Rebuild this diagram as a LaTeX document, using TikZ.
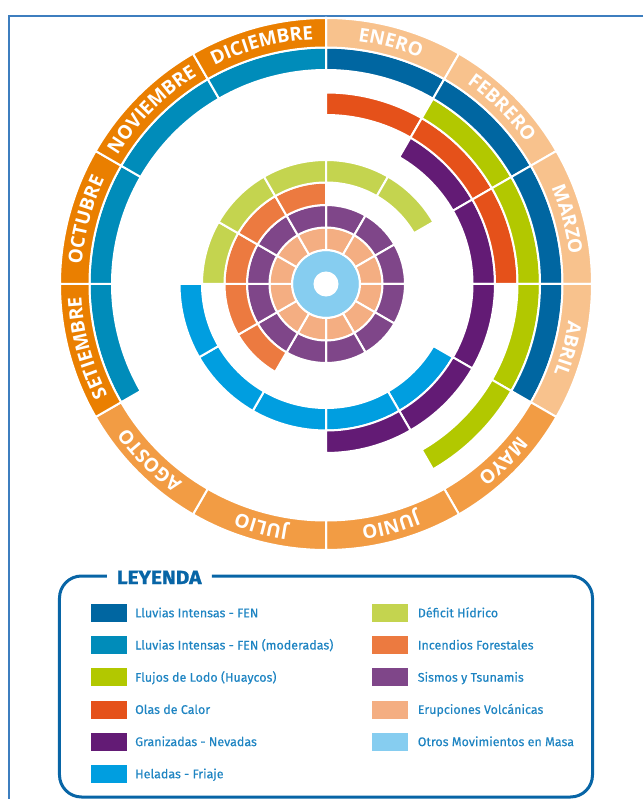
\documentclass[tikz,border=0pt]{standalone}
\usepackage{fontspec}
\setmainfont{Fira Sans}
\newfontfamily\legendfam[FakeBold=0.4]{Fira Sans}
\newfontfamily\titlefam[FakeStretch=1.1, FakeBold=1.2]{Fira Sans}
\newfontfamily\mesfam{Open Sans}
\usetikzlibrary{decorations.text}

\definecolor{fenstrong}{HTML}{0066A1}
\definecolor{fenmod}{HTML}{008CBA}
\definecolor{huayco}{HTML}{B2C800}
\definecolor{calor}{HTML}{E5511A}
\definecolor{granizo}{HTML}{631B75}
\definecolor{helada}{HTML}{009EE0}
\definecolor{deficit}{HTML}{C4D44F}
\definecolor{incendio}{HTML}{EC7A40}
\definecolor{sismo}{HTML}{7F4689}
\definecolor{volcan}{HTML}{F4AE82}
\definecolor{masa}{HTML}{86CDF0}
\definecolor{mesA}{HTML}{F8C28D}
\definecolor{mesB}{HTML}{F29C44}
\definecolor{mesC}{HTML}{EA7F00}
\definecolor{framecol}{HTML}{3D7EBF}
\definecolor{legline}{HTML}{0865A6}
\definecolor{legtext}{HTML}{1E84C2}

\newcommand{\mesfont}{\mesfam\bfseries\fontsize{19pt}{19pt}\selectfont}
\newcommand{\legfont}{\legendfam\fontsize{12.5pt}{12.5pt}\selectfont}

% ring #1, month #2 (0 = enero), colour #3
\newcommand{\band}[3]{%
  \filldraw[#3, draw=white, line width=2pt]
    ({90-30*#2}:{11.5+22.5*#1}) arc[start angle={90-30*#2}, end angle={60-30*#2}, radius={11.5+22.5*#1}]
    -- ({60-30*#2}:{34+22.5*#1}) arc[start angle={60-30*#2}, end angle={90-30*#2}, radius={34+22.5*#1}] -- cycle;}

% month #1, colour #2, name #3
\newcommand{\mes}[3]{%
  \filldraw[#2, draw=white, line width=2pt]
    ({90-30*#1}:236.5) arc[start angle={90-30*#1}, end angle={60-30*#1}, radius=236.5]
    -- ({60-30*#1}:266) arc[start angle={60-30*#1}, end angle={90-30*#1}, radius=266] -- cycle;
  \path[decorate, decoration={text along path, text={|\mesfont|#3}, text align=center, text color=white}]
    ({90-30*#1}:245) arc[start angle={90-30*#1}, end angle={60-30*#1}, radius=245];}

\tikzset{
  swatch/.style={inner sep=0pt, minimum width=36pt, minimum height=18pt},
  legitem/.style={anchor=base west, inner sep=0pt, text=legtext, font=\legfont}
}

\begin{document}
\begin{tikzpicture}[x=1pt, y=1pt]
\useasboundingbox (-326,-515) rectangle (317,284);

% Frame
\draw[framecol, line width=2pt] (317,267.5) -- (-317,267.5) -- (-317,-515);

% Otros Movimientos en Masa
\filldraw[masa, draw=white, line width=2pt, even odd rule] (0,0) circle[radius=34] (0,0) circle[radius=11.5];

% Erupciones Volcanicas, Sismos y Tsunamis
\foreach \i in {0,...,11} {\band{1}{\i}{volcan} \band{2}{\i}{sismo}}

% Incendios Forestales
\foreach \i in {7,...,11} {\band{3}{\i}{incendio}}

% Deficit Hidrico
\foreach \i in {9,...,13} {\band{4}{\i}{deficit}}

% Heladas - Friaje
\foreach \i in {4,...,8} {\band{5}{\i}{helada}}

% Granizadas - Nevadas
\foreach \i in {1,...,5} {\band{6}{\i}{granizo}}

% Olas de Calor
\foreach \i in {0,...,2} {\band{7}{\i}{calor}}

% Flujos de Lodo
\foreach \i in {1,...,4} {\band{8}{\i}{huayco}}

% Lluvias Intensas - FEN
\foreach \i in {0,...,3} {\band{9}{\i}{fenstrong}}
\foreach \i in {8,...,11} {\band{9}{\i}{fenmod}}

% Months
\mes{0}{mesA}{ENERO}
\mes{1}{mesA}{FEBRERO}
\mes{2}{mesA}{MARZO}
\mes{3}{mesA}{ABRIL}
\mes{4}{mesB}{MAYO}
\mes{5}{mesB}{JUNIO}
\mes{6}{mesB}{JULIO}
\mes{7}{mesB}{AGOSTO}
\mes{8}{mesC}{SETIEMBRE}
\mes{9}{mesC}{OCTUBRE}
\mes{10}{mesC}{NOVIEMBRE}
\mes{11}{mesC}{DICIEMBRE}

% Legend
\draw[legline, line width=3pt, rounded corners=22pt] (-219,-292) -- (-266.5,-292) -- (-266.5,-513) -- (266.5,-513) -- (266.5,-292) -- (-114,-292);
\node[anchor=base west, inner sep=0pt, text=legline, font=\titlefam\bfseries\fontsize{19pt}{19pt}\selectfont] (leyenda) at (-209.3,-300) {LEYENDA};

\foreach \col/\txt [count=\n from 0] in {fenstrong/Lluvias Intensas - FEN, fenmod/Lluvias Intensas - FEN (moderadas), huayco/Flujos de Lodo (Huaycos), calor/Olas de Calor, granizo/Granizadas - Nevadas, helada/Heladas - Friaje} {
  \node[swatch, fill=\col] (swa\n) at (-216.5,{-329-32.2*\n}) {};
  \node[legitem] (laba\n) at (-191,{-333.3-32.2*\n}) {\txt};
}
\foreach \col/\txt [count=\n from 0] in {deficit/Déficit Hídrico, incendio/Incendios Forestales, sismo/Sismos y Tsunamis, volcan/Erupciones Volcánicas, masa/Otros Movimientos en Masa} {
  \node[swatch, fill=\col] (swb\n) at (63.5,{-329-32.2*\n}) {};
  \node[legitem] (labb\n) at (91.6,{-333.3-32.2*\n}) {\txt};
}
\end{tikzpicture}
\end{document}
